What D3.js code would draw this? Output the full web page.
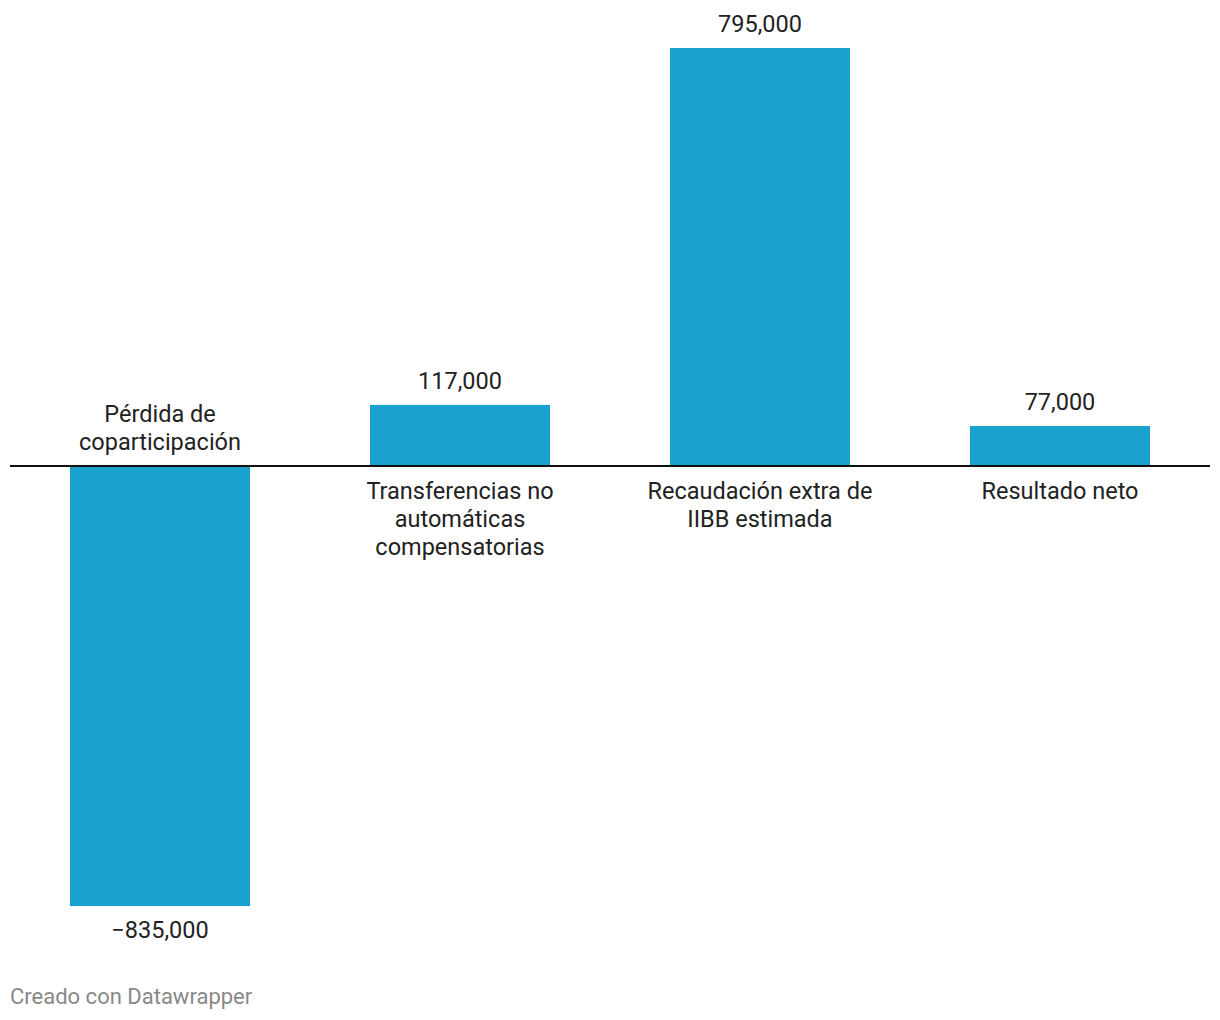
<!DOCTYPE html>
<html>
<head>
<meta charset="utf-8">
<script src="https://cdn.jsdelivr.net/npm/d3@7"></script>
<style>
  body { margin: 0; background: #fff; }
  svg { display: block; font-family: Roboto, sans-serif; }
</style>
</head>
<body>
<svg width="1220" height="1020"></svg>
<script>
// data
var categories = [
  ["Pérdida de", "coparticipación"],
  ["Transferencias no", "automáticas", "compensatorias"],
  ["Recaudación extra de", "IIBB estimada"],
  ["Resultado neto"]
];
var values = [-835000, 117000, 795000, 77000];

var svg = d3.select("svg"),
    barColor = "#1aa1cd",
    textColor = "#222";

var x = d3.scaleBand()
    .domain(d3.range(values.length))
    .range([10, 1210])
    .paddingInner(0.4)
    .paddingOuter(0.2);

var y = d3.scaleLinear()
    .domain([d3.min(values), d3.max(values)])
    .range([906, 48]);

var fmt = d3.format(",");
var lineH = 28,
    fs = 23.5;

var g = svg.append("g");

g.selectAll("rect")
  .data(values)
  .enter().append("rect")
    .attr("x", function(d, i) { return x(i); })
    .attr("width", x.bandwidth())
    .attr("y", function(d) { return y(Math.max(0, d)); })
    .attr("height", function(d) { return Math.abs(y(d) - y(0)); })
    .attr("fill", barColor);

// zero line
g.append("line")
    .attr("x1", 10).attr("x2", 1210)
    .attr("y1", y(0) - 0.5).attr("y2", y(0) - 0.5)
    .attr("stroke", "#111")
    .attr("stroke-width", 2);

// value labels
g.selectAll(".val")
  .data(values)
  .enter().append("text")
    .attr("class", "val")
    .attr("x", function(d, i) { return x(i) + x.bandwidth() / 2; })
    .attr("y", function(d) { return d >= 0 ? y(d) - 24 : y(d) + 24; })
    .attr("dy", "0.35em")
    .attr("text-anchor", "middle")
    .attr("font-size", fs)
    .attr("fill", textColor)
    .text(function(d) { return fmt(d).replace("-", "\u2212"); });

// category labels
g.selectAll(".cat")
  .data(categories)
  .enter().append("text")
    .attr("class", "cat")
    .attr("text-anchor", "middle")
    .attr("font-size", fs)
    .attr("fill", textColor)
    .each(function(lines, i) {
      var cx = x(i) + x.bandwidth() / 2,
          neg = values[i] < 0,
          y0 = neg ? y(0) - 25 - (lines.length - 1) * lineH : y(0) + 24;
      d3.select(this).selectAll("tspan")
        .data(lines)
        .enter().append("tspan")
          .attr("x", cx)
          .attr("y", function(l, j) { return y0 + j * lineH; })
          .attr("dy", "0.35em")
          .text(function(l) { return l; });
    });

svg.append("text")
    .attr("x", 10)
    .attr("y", 996)
    .attr("dy", "0.35em")
    .attr("font-size", 22)
    .attr("fill", "#888")
    .text("Creado con Datawrapper");
</script>
</body>
</html>
